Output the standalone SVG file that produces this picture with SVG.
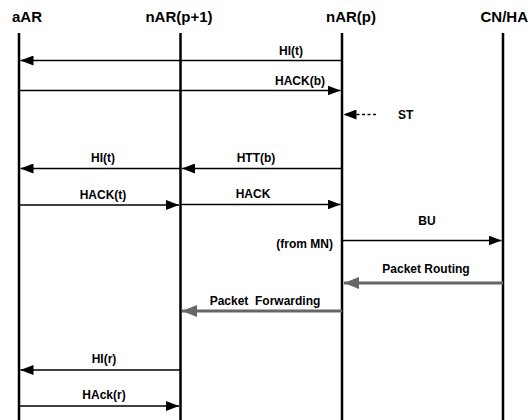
<svg xmlns="http://www.w3.org/2000/svg" width="531" height="420" viewBox="0 0 531 420">
<style>
  text { font-family: "Liberation Sans", Arial, sans-serif; font-weight: bold; fill: #000; }
  .hdr { font-size: 15px; }
  .lbl { font-size: 12px; }
  .life { stroke: #000; stroke-width: 2.5; fill: none; }
  .msg { stroke: #000; stroke-width: 1.5; fill: none; }
  .dash { stroke: #000; stroke-width: 1.3; fill: none; stroke-dasharray: 3 2.5; }
  .data { stroke: #666; stroke-width: 3; fill: none; }
</style>
<defs>
  <marker id="ah" markerUnits="userSpaceOnUse" viewBox="0 0 13 10" refX="13" refY="5" markerWidth="13" markerHeight="10" orient="auto">
    <path d="M0,0 L13,5 L0,10 Z" fill="#000"/>
  </marker>
  <marker id="ahg" markerUnits="userSpaceOnUse" viewBox="0 0 15 12" refX="15" refY="6" markerWidth="15" markerHeight="12" orient="auto">
    <path d="M0,0 L15,6 L0,12 Z" fill="#666"/>
  </marker>
</defs>
<rect width="531" height="420" fill="#fff"/>
<g id="aAR">
  <text class="hdr" x="12" y="22">aAR</text>
  <line class="life" x1="19" y1="33" x2="19" y2="420"/>
</g>
<g id="nARp1">
  <text class="hdr" x="179" y="22" text-anchor="middle">nAR(p+1)</text>
  <line class="life" x1="180.5" y1="33" x2="180.5" y2="420"/>
</g>
<g id="nARp">
  <text class="hdr" x="351" y="22" text-anchor="middle">nAR(p)</text>
  <line class="life" x1="342" y1="33" x2="342" y2="420"/>
</g>
<g id="CNHA">
  <text class="hdr" x="528" y="22" text-anchor="end">CN/HA</text>
  <line class="life" x1="503" y1="33" x2="503" y2="420"/>
</g>
<g id="connectors">
  <line class="msg" x1="342" y1="60.5" x2="20.5" y2="60.5" marker-end="url(#ah)"/>
  <text class="lbl" x="291" y="55" text-anchor="middle">HI(t)</text>
  <line class="msg" x1="19" y1="90.5" x2="340.5" y2="90.5" marker-end="url(#ah)"/>
  <text class="lbl" x="300" y="85" text-anchor="middle">HACK(b)</text>
  <line class="dash" x1="376" y1="114.5" x2="343.5" y2="114.5" marker-end="url(#ah)"/>
  <text class="lbl" x="398" y="119">ST</text>
  <line class="msg" x1="180" y1="168.5" x2="20.5" y2="168.5" marker-end="url(#ah)"/>
  <text class="lbl" x="103" y="162" text-anchor="middle">HI(t)</text>
  <line class="msg" x1="342" y1="168.5" x2="182" y2="168.5" marker-end="url(#ah)"/>
  <text class="lbl" x="256" y="162" text-anchor="middle">HTT(b)</text>
  <line class="msg" x1="19" y1="205" x2="179" y2="205" marker-end="url(#ah)"/>
  <text class="lbl" x="103" y="199" text-anchor="middle">HACK(t)</text>
  <line class="msg" x1="180.5" y1="204.5" x2="340.5" y2="204.5" marker-end="url(#ah)"/>
  <text class="lbl" x="253" y="198" text-anchor="middle">HACK</text>
  <line class="msg" x1="342" y1="240.5" x2="501.5" y2="240.5" marker-end="url(#ah)"/>
  <text class="lbl" x="427" y="225" text-anchor="middle">BU</text>
  <text class="lbl" x="333" y="248" text-anchor="end">(from MN)</text>
  <line class="data" x1="503" y1="283" x2="344" y2="283" marker-end="url(#ahg)"/>
  <text class="lbl" x="426" y="273" text-anchor="middle">Packet Routing</text>
  <line class="data" x1="342" y1="311" x2="182" y2="311" marker-end="url(#ahg)"/>
  <text class="lbl" x="265" y="305" text-anchor="middle" xml:space="preserve">Packet  Forwarding</text>
  <line class="msg" x1="180" y1="370" x2="20.5" y2="370" marker-end="url(#ah)"/>
  <text class="lbl" x="104" y="363" text-anchor="middle">HI(r)</text>
  <line class="msg" x1="19" y1="406" x2="179" y2="406" marker-end="url(#ah)"/>
  <text class="lbl" x="104" y="399" text-anchor="middle">HAck(r)</text>
</g>
</svg>
